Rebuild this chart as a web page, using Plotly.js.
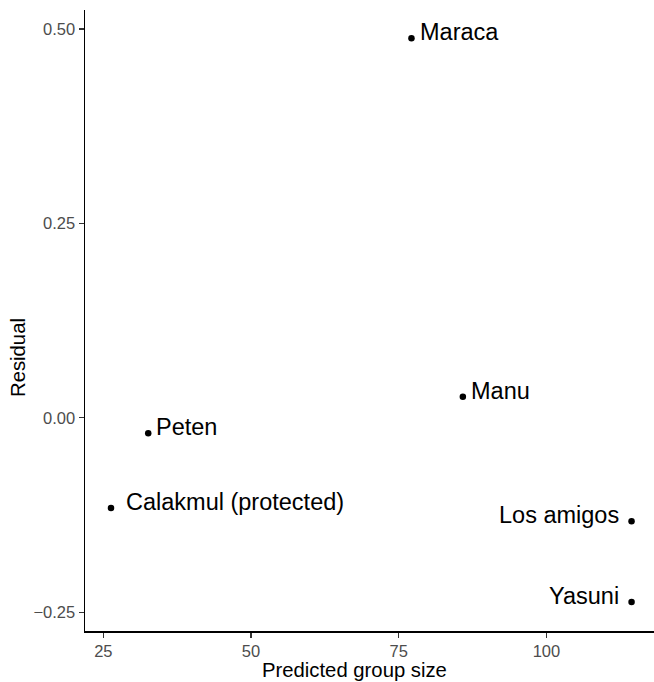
<!DOCTYPE html>
<html>
<head>
<meta charset="utf-8">
<script src="https://cdn.plot.ly/plotly-3.0.1.min.js"></script>
<style>html,body{margin:0;padding:0;background:#fff;overflow:hidden}</style>
</head>
<body>
<div id="chart" style="width:654px;height:682px"></div>
<script>
// Data
const sites     = ['Maraca', 'Manu', 'Peten', 'Calakmul (protected)', 'Los amigos', 'Yasuni'];
const predicted = [77.15, 85.85, 32.6, 26.3, 114.4, 114.4];
const residual  = [0.488, 0.027, -0.020, -0.116, -0.133, -0.237];
const labelSide = ['right', 'right', 'right', 'right', 'left', 'left'];
const labelGap  = [7, 6, 6, 13, 11, 11];

const xTickVals = [25, 50, 75, 100];
const xTickText = ['25', '50', '75', '100'];
const yTickVals = [-0.25, 0, 0.25, 0.5];
const yTickText = ['\u22120.25', '0.00', '0.25', '0.50'];
const xTitle = 'Predicted group size';
const yTitle = 'Residual';

const FONT = 'Liberation Sans, Arial, Helvetica, sans-serif';

const annotations = sites.map((s, i) => ({
  x: predicted[i], y: residual[i], xref: 'x', yref: 'y',
  text: s, showarrow: false,
  xanchor: labelSide[i] === 'right' ? 'left' : 'right',
  yanchor: 'middle',
  xshift: labelSide[i] === 'right' ? labelGap[i] : -labelGap[i],
  yshift: 6,
  font: {family: FONT, size: 23.5, color: '#000'}
}));

annotations.push({
  xref: 'paper', yref: 'paper', x: 0.4745, y: -0.042,
  xanchor: 'center', yanchor: 'top', showarrow: false,
  text: xTitle, font: {family: FONT, size: 20.3, color: '#000'}
});
annotations.push({
  xref: 'paper', yref: 'paper', x: -0.1178, y: 0.4412,
  xanchor: 'center', yanchor: 'middle', showarrow: false, textangle: -90,
  text: yTitle, font: {family: FONT, size: 20.3, color: '#000'}
});

const trace = {
  x: predicted, y: residual, type: 'scatter', mode: 'markers',
  marker: {color: '#000', size: 6.5},
  hoverinfo: 'skip'
};

const axisCommon = {
  showgrid: false, zeroline: false, showline: true,
  linecolor: '#000', linewidth: 1.5,
  ticks: 'outside', ticklen: 5, tickwidth: 1.2, tickcolor: '#333',
  tickfont: {family: FONT, size: 16.5, color: '#4d4d4d'},
  mirror: false
};

const layout = {
  width: 654, height: 682,
  margin: {l: 85, r: 0, t: 10, b: 51},
  paper_bgcolor: '#fff', plot_bgcolor: '#fff',
  showlegend: false,
  xaxis: Object.assign({}, axisCommon, {
    range: [21.9, 118.2],
    tickvals: xTickVals, ticktext: xTickText
  }),
  yaxis: Object.assign({}, axisCommon, {
    range: [-0.2742, 0.5244],
    tickvals: yTickVals, ticktext: yTickText
  }),
  annotations: annotations
};

Plotly.newPlot('chart', [trace], layout, {displayModeBar: false, staticPlot: true});
</script>
</body>
</html>
